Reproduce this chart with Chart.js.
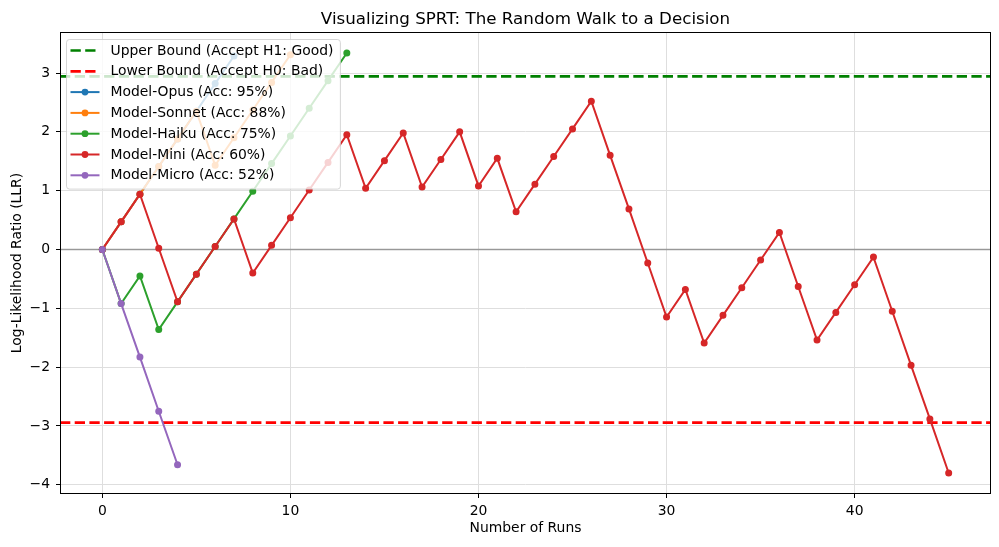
<!DOCTYPE html>
<html>
<head>
<meta charset="utf-8">
<script src="https://cdn.jsdelivr.net/npm/chart.js@4.4.1/dist/chart.umd.min.js"></script>
<style>
  html, body { margin: 0; padding: 0; background: #fff; }
  #wrap { width: 999px; height: 547px; }
</style>
</head>
<body>
<div id="wrap"><canvas id="sprtChart" width="999" height="547"></canvas></div>
<script>
// SPRT decision bounds
const upperBound = 2.944;
const lowerBound = -2.944;

// cumulative LLR per run, index = run number
const opusLLR = [0, 0.47, 0.94, 1.41, 1.88, 2.35, 2.82, 3.29];
const sonnetLLR = [0, 0.47, 0.94, 1.41, 1.88, 2.35, 1.43, 1.90, 2.37, 2.84, 3.31];
const haikuLLR = [0, -0.92, -0.45, -1.36, -0.89, -0.42, 0.05, 0.52, 0.99, 1.46, 1.93, 2.40, 2.87, 3.34];
const miniLLR = [0, 0.47, 0.94, 0.02, -0.89, -0.42, 0.05, 0.52, -0.40, 0.07, 0.54, 1.01, 1.48, 1.95,
  1.04, 1.51, 1.98, 1.06, 1.53, 2.00, 1.08, 1.55, 0.64, 1.11, 1.58, 2.05, 2.52, 1.60, 0.69, -0.23,
  -1.15, -0.68, -1.59, -1.12, -0.65, -0.18, 0.29, -0.63, -1.54, -1.07, -0.60, -0.13, -1.05, -1.97,
  -2.88, -3.80];
const microLLR = [0, -0.92, -1.83, -2.75, -3.66];

const xTicks = [0, 10, 20, 30, 40];
const yTicks = [-4, -3, -2, -1, 0, 1, 2, 3];

const chartTitle = "Visualizing SPRT: The Random Walk to a Decision";

const FONT = "'DejaVu Sans', sans-serif";
const BOUND_DASH = [10.3, 4.4];

function toPoints(arr) {
  return arr.map(function (v, i) {
    return { x: i, y: v };
  });
}

function series(label, values, color, order) {
  return {
    label: label,
    data: toPoints(values),
    borderColor: color,
    backgroundColor: color,
    pointBackgroundColor: color,
    pointBorderColor: color,
    borderWidth: 2,
    pointRadius: 2.8,
    pointBorderWidth: 1.4,
    tension: 0,
    order: order, // later models drawn on top, like matplotlib
  };
}

// legend entries (drawn inside the plot by the plugin below)
const legendItems = [
  { text: "Upper Bound (Accept H1: Good)", color: "#008000", dashed: true },
  { text: "Lower Bound (Accept H0: Bad)", color: "#ff0000", dashed: true },
  { text: "Model-Opus (Acc: 95%)", color: "#1f77b4" },
  { text: "Model-Sonnet (Acc: 88%)", color: "#ff7f0e" },
  { text: "Model-Haiku (Acc: 75%)", color: "#2ca02c" },
  { text: "Model-Mini (Acc: 60%)", color: "#d62728" },
  { text: "Model-Micro (Acc: 52%)", color: "#9467bd" },
];

const sprtDecor = {
  id: "sprtDecor",
  beforeDatasetsDraw: function (chart) {
    const ctx = chart.ctx;
    const area = chart.chartArea;
    const y = chart.scales.y;
    ctx.save();
    ctx.beginPath();
    ctx.rect(area.left, area.top, area.right - area.left, area.bottom - area.top);
    ctx.clip();
    // zero line
    ctx.strokeStyle = "rgba(128,128,128,0.75)";
    ctx.lineWidth = 1.6;
    ctx.beginPath();
    ctx.moveTo(area.left, y.getPixelForValue(0));
    ctx.lineTo(area.right, y.getPixelForValue(0));
    ctx.stroke();
    // bounds
    ctx.lineWidth = 2.7;
    ctx.setLineDash(BOUND_DASH);
    [[upperBound, "#008000"], [lowerBound, "#ff0000"]].forEach(function (b) {
      const py = y.getPixelForValue(b[0]);
      ctx.strokeStyle = b[1];
      ctx.beginPath();
      ctx.moveTo(area.left, py);
      ctx.lineTo(area.right, py);
      ctx.stroke();
    });
    ctx.restore();
  },
  afterDatasetsDraw: function (chart) {
    const ctx = chart.ctx;
    const a = chart.chartArea;
    ctx.save();
    ctx.strokeStyle = "#000";
    ctx.lineWidth = 1;
    ctx.strokeRect(Math.round(a.left) + 0.5, Math.round(a.top) + 0.5,
      Math.round(a.right - a.left) - 1, Math.round(a.bottom - a.top) - 1);
    // title centred over the axes, as matplotlib does
    ctx.fillStyle = "#000";
    ctx.font = "16.7px " + FONT;
    ctx.textAlign = "center";
    ctx.textBaseline = "alphabetic";
    ctx.fillText(chartTitle, (a.left + a.right) / 2, a.top - 8);
    ctx.restore();
  },
  afterDraw: function (chart) {
    const ctx = chart.ctx;
    const a = chart.chartArea;
    const rowH = 20.8;
    ctx.save();
    ctx.font = "13.9px " + FONT;
    let maxW = 0;
    legendItems.forEach(function (it) {
      maxW = Math.max(maxW, ctx.measureText(it.text).width);
    });
    const bx = a.left + 6.5;
    const by = a.top + 7.5;
    const bw = 44 + maxW + 7;
    const bh = rowH * legendItems.length + 4;
    // frame
    ctx.fillStyle = "rgba(255,255,255,0.8)";
    ctx.strokeStyle = "rgba(204,204,204,0.8)";
    ctx.lineWidth = 1;
    ctx.beginPath();
    ctx.roundRect(bx, by, bw, bh, 3);
    ctx.fill();
    ctx.stroke();
    // entries
    legendItems.forEach(function (it, i) {
      const cy = by + 11 + i * rowH;
      const x0 = bx + 4;
      const x1 = bx + 33;
      ctx.strokeStyle = it.color;
      ctx.fillStyle = it.color;
      ctx.beginPath();
      if (it.dashed) {
        ctx.lineWidth = 2.7;
        ctx.setLineDash(BOUND_DASH);
      } else {
        ctx.lineWidth = 2;
        ctx.setLineDash([]);
      }
      ctx.moveTo(x0, cy);
      ctx.lineTo(x1, cy);
      ctx.stroke();
      ctx.setLineDash([]);
      if (!it.dashed) {
        ctx.beginPath();
        ctx.arc((x0 + x1) / 2, cy, 3.4, 0, Math.PI * 2);
        ctx.fill();
      }
      ctx.fillStyle = "#000";
      ctx.textBaseline = "middle";
      ctx.textAlign = "left";
      ctx.fillText(it.text, bx + 44, cy + 0.5);
    });
    ctx.restore();
  },
};

const ctx = document.getElementById("sprtChart");

const sprtChart = new Chart(ctx, {
  type: "line",
  data: {
    datasets: [
      series("Model-Opus (Acc: 95%)", opusLLR, "#1f77b4", 5),
      series("Model-Sonnet (Acc: 88%)", sonnetLLR, "#ff7f0e", 4),
      series("Model-Haiku (Acc: 75%)", haikuLLR, "#2ca02c", 3),
      series("Model-Mini (Acc: 60%)", miniLLR, "#d62728", 2),
      series("Model-Micro (Acc: 52%)", microLLR, "#9467bd", 1),
    ],
  },
  plugins: [sprtDecor],
  options: {
    responsive: false,
    maintainAspectRatio: false,
    animation: false,
    events: [],
    layout: {
      padding: { left: 0, right: 8, top: 32, bottom: 0 },
    },
    scales: {
      x: {
        type: "linear",
        min: -2.25,
        max: 47.25,
        afterBuildTicks: function (scale) {
          scale.ticks = xTicks.map(function (v) { return { value: v }; });
        },
        afterFit: function (scale) {
          scale.height = 53;
        },
        grid: {
          color: "#dedede",
          lineWidth: 1,
          drawTicks: true,
          tickLength: 4,
          tickColor: "#000",
          tickWidth: 1,
        },
        border: { display: false },
        ticks: {
          color: "#000",
          padding: 5,
          maxRotation: 0,
          font: { family: FONT, size: 13.9 },
        },
        title: {
          display: true,
          text: "Number of Runs",
          color: "#000",
          font: { family: FONT, size: 13.9 },
          padding: { top: 0, bottom: 10.5 },
        },
      },
      y: {
        type: "linear",
        min: -4.157,
        max: 3.697,
        afterBuildTicks: function (scale) {
          scale.ticks = yTicks.map(function (v) { return { value: v }; });
        },
        afterFit: function (scale) {
          scale.width = 60;
        },
        grid: {
          color: "#dedede",
          lineWidth: 1,
          drawTicks: true,
          tickLength: 4,
          tickColor: "#000",
          tickWidth: 1,
        },
        border: { display: false },
        ticks: {
          color: "#000",
          padding: 6,
          font: { family: FONT, size: 13.9 },
          // matplotlib style minus sign
          callback: function (value) {
            return value < 0 ? "\u2212" + Math.abs(value) : String(value);
          },
        },
        title: {
          display: true,
          text: "Log-Likelihood Ratio (LLR)",
          color: "#000",
          font: { family: FONT, size: 13.9 },
          padding: { top: 9.5, bottom: 0 },
        },
      },
    },
    plugins: {
      legend: { display: false },
      tooltip: { enabled: false },
      title: { display: false },
    },
  },
});
</script>
</body>
</html>
